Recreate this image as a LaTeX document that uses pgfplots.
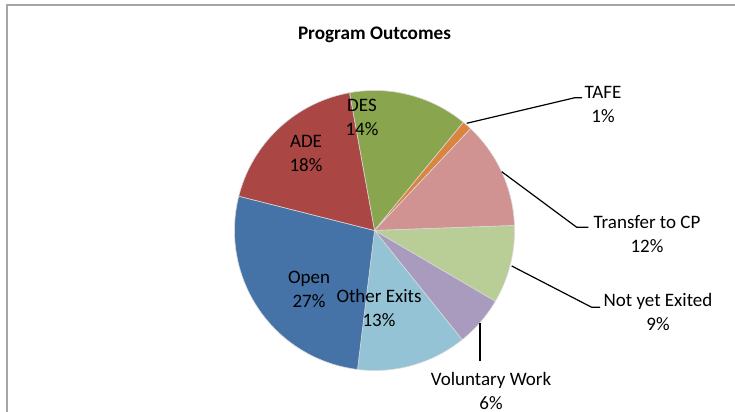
\documentclass[border=0pt]{standalone}
\usepackage{pgfplots}
\usepackage{pgfplotstable}
\pgfplotsset{compat=1.18}
\usepackage{fontspec}
\setmainfont{Carlito}
\definecolor{cDES}{HTML}{89A54E}
\definecolor{cTAFE}{HTML}{DB843D}
\definecolor{cTRA}{HTML}{D09391}
\definecolor{cNYE}{HTML}{B9CD96}
\definecolor{cVOL}{HTML}{A99BBD}
\definecolor{cOTH}{HTML}{93C3D4}
\definecolor{cOPEN}{HTML}{4572A7}
\definecolor{cADE}{HTML}{AA4643}
\definecolor{frame}{HTML}{A6A6A6}
\pgfplotstableread{
name value col
DES 13.8 cDES
TAFE 1.1 cTAFE
Transfer 12.4 cTRA
NotYet 9.0 cNYE
Voluntary 5.8 cVOL
Other 12.7 cOTH
Open 27.0 cOPEN
ADE 18.2 cADE
}\piedata
\begin{document}
\begin{tikzpicture}
\begin{axis}[
  name=main,
  x=0.5bp, y=0.5bp,
  xmin=0, xmax=735, ymin=0, ymax=412,
  hide axis, clip=true,
  scale only axis,
]
\def\cx{374.5}
\def\cy{181.5}
\def\rr{140}
\gdef\angstart{100.3}
\pgfplotsforeachungrouped \i in {0,...,7}{%
  \pgfplotstablegetelem{\i}{value}\of\piedata \let\v\pgfplotsretval
  \pgfplotstablegetelem{\i}{col}\of\piedata \let\c\pgfplotsretval
  \pgfmathsetmacro\aend{\angstart-3.6*\v}%
  \edef\temp{\noexpand\addplot[fill=\c, draw=white!85!black, line width=0.3bp, domain=\aend:\angstart, samples=60, variable=\noexpand\t] ({\cx+\rr*cos(\noexpand\t)},{\cy+\rr*sin(\noexpand\t)}) -- (axis cs:\cx,\cy) -- cycle;}%
  \temp
  \xdef\angstart{\aend}%
}
% frame
\addplot[frame, line width=1bp] coordinates {(6.5,0) (6.5,407) (735,407)};
% leader lines
\addplot[black, line width=0.6bp] coordinates {(466.7,288.7) (575,314.3) (582,314.3)};
\addplot[black, line width=0.6bp] coordinates {(501.7,240.3) (576.7,184.7) (588.3,184.7)};
\addplot[black, line width=0.6bp] coordinates {(511.7,146) (591.7,104.7) (600,104.7)};
\addplot[black, line width=0.6bp] coordinates {(480,88.7) (480,51)};
% title
\node[font=\fontsize{9.6bp}{11bp}\selectfont\bfseries] at (axis cs:374.5,377) {Program Outcomes};
% labels
\tikzset{lbl/.style={font=\fontsize{9.5bp}{12bp}\selectfont, align=center, inner sep=0pt}}
\node[lbl] at (axis cs:362,295) {DES\\14\%};
\node[lbl] at (axis cs:306,258.5) {ADE\\18\%};
\node[lbl] at (axis cs:309,122.5) {Open\\27\%};
\node[lbl] at (axis cs:379,104) {Other Exits\\13\%};
\node[lbl] at (axis cs:603,308) {TAFE\\1\%};
\node[lbl] at (axis cs:647,178) {Transfer to CP\\12\%};
\node[lbl] at (axis cs:658,100) {Not yet Exited\\9\%};
\node[lbl] at (axis cs:491,21) {Voluntary Work\\6\%};
\end{axis}
\pgfresetboundingbox
\useasboundingbox (main.south west) rectangle (main.north east);
\end{tikzpicture}
\end{document}
